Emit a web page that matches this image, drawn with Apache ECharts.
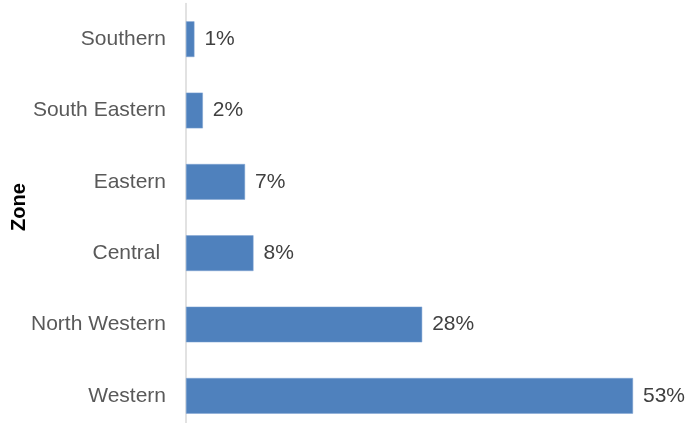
<!DOCTYPE html>
<html>
<head>
<meta charset="utf-8">
<script src="https://cdn.jsdelivr.net/npm/echarts@6/dist/echarts.min.js"></script>
<style>
  html, body { margin: 0; padding: 0; background: #fff; }
  #chart { width: 688px; height: 423px; }
</style>
</head>
<body>
<div id="chart"></div>
<script>
// Zones listed bottom-to-top (category axis runs upward)
const zones = ['Western', 'North Western', 'Central ', 'Eastern', 'South Eastern', 'Southern'];
// Share of total per zone, in percent
const shares = [53, 28, 8, 7, 2, 1];
const axisTitle = 'Zone';

const chart = echarts.init(document.getElementById('chart'));
chart.setOption({
  animation: false,
  grid: {
    left: 186, right: 55, top: 3.5, bottom: -8.5,
    containLabel: false,
    outerBoundsMode: 'none'
  },
  xAxis: {
    type: 'value',
    min: 0,
    max: 53,
    show: false
  },
  yAxis: {
    type: 'category',
    data: zones,
    name: axisTitle,
    nameLocation: 'middle',
    nameGap: 157,
    nameRotate: 90,
    nameMoveOverlap: false,
    nameTextStyle: {
      fontFamily: 'Liberation Sans, Arial, sans-serif',
      fontSize: 20,
      fontWeight: 'bold',
      color: '#000',
      padding: [0, 0, 0, 21]
    },
    axisLine: { show: true, lineStyle: { color: '#d9d9d9', width: 1.5 } },
    axisTick: { show: false },
    axisLabel: {
      margin: 20,
      fontFamily: 'Liberation Sans, Arial, sans-serif',
      fontSize: 21,
      color: '#595959'
    },
    splitLine: { show: false }
  },
  series: [{
    type: 'bar',
    data: shares,
    barWidth: '50%',
    itemStyle: { color: '#4f81bd', borderColor: '#7ea3d2', borderWidth: 0.5 },
    label: {
      show: true,
      position: 'right',
      distance: 10,
      formatter: '{c}%',
      fontFamily: 'Liberation Sans, Arial, sans-serif',
      fontSize: 21,
      color: '#404040'
    }
  }]
});
</script>
</body>
</html>
